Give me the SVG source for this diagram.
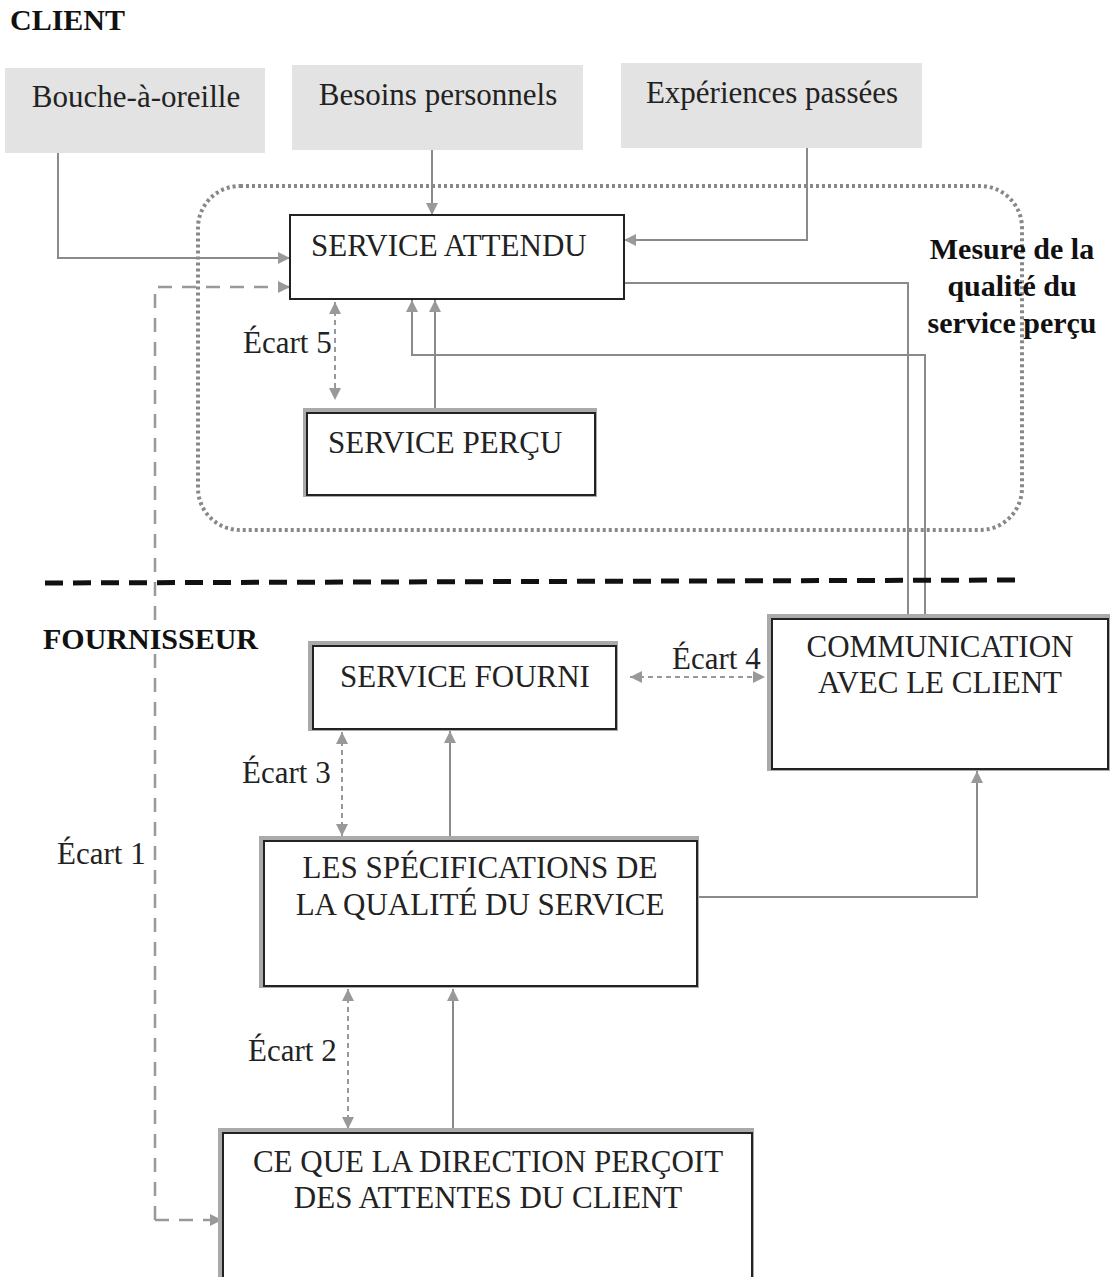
<svg xmlns="http://www.w3.org/2000/svg" width="1110" height="1277" viewBox="0 0 1110 1277">
<style>
text{font-family:"Liberation Serif","Times New Roman",serif;fill:#222}
.t{font-size:31px}
.b{font-size:30px;font-weight:bold;fill:#111}
.src{fill:#e3e3e3}
.box{fill:#fff;stroke:#222;stroke-width:2}
.sh{fill:none;stroke:#aaa;stroke-width:4}
.ln{fill:none;stroke:#8a8a8a;stroke-width:2}
.dl{fill:none;stroke:#999;stroke-width:2;stroke-dasharray:5 4}
.dg{fill:none;stroke:#999;stroke-width:2.5;stroke-dasharray:14 10}
</style>
<defs>
<marker id="ahb" viewBox="0 0 10 10" refX="10" refY="5" markerWidth="12" markerHeight="12" markerUnits="userSpaceOnUse" orient="auto-start-reverse">
<path d="M0,0 L10,5 L0,10 z" fill="#999"/>
</marker>
</defs>

<text class="b" x="10" y="30">CLIENT</text>

<g id="bouche"><rect class="src" x="5" y="68" width="260" height="85"/><text class="t" x="136" y="107" text-anchor="middle">Bouche-à-oreille</text></g>
<g id="besoins"><rect class="src" x="292" y="65" width="291" height="85"/><text class="t" x="438" y="105" text-anchor="middle">Besoins personnels</text></g>
<g id="experiences"><rect class="src" x="621" y="63" width="301" height="85"/><text class="t" x="772" y="103" text-anchor="middle">Expériences passées</text></g>

<g id="zone-mesure">
<rect x="198" y="186" width="824" height="344" rx="42" fill="none" stroke="#888" stroke-width="4" stroke-dasharray="3 3"/>
</g>

<g id="connectors">
<path class="ln" d="M58,153 V258 H290" marker-end="url(#ahb)"/>
<path class="ln" d="M432,150 V215" marker-end="url(#ahb)"/>
<path class="ln" d="M807,148 V240 H624" marker-end="url(#ahb)"/>
<path class="ln" d="M624,283 H908 V618"/>
<path class="ln" d="M925,618 V355 H412 V300" marker-end="url(#ahb)"/>
<path class="ln" d="M435,412 V300" marker-end="url(#ahb)"/>
<path class="dl" d="M335,302 V400" marker-start="url(#ahb)" marker-end="url(#ahb)"/>
<path class="dl" d="M630,677 H765" marker-start="url(#ahb)" marker-end="url(#ahb)"/>
<path class="dl" d="M342,732 V836" marker-start="url(#ahb)" marker-end="url(#ahb)"/>
<path class="ln" d="M450,838 V731" marker-end="url(#ahb)"/>
<path class="ln" d="M697,897 H977 V771" marker-end="url(#ahb)"/>
<path class="dl" d="M348,989 V1129" marker-start="url(#ahb)" marker-end="url(#ahb)"/>
<path class="ln" d="M453,1131 V989" marker-end="url(#ahb)"/>
<path class="dg" d="M155,1220 V287 H290" marker-end="url(#ahb)"/>
<path class="dg" d="M155,1220 H222" marker-end="url(#ahb)"/>
</g>

<g id="service-attendu"><rect class="box" x="290" y="215" width="334" height="84"/><text class="t" x="311" y="256">SERVICE ATTENDU</text></g>

<text class="t" x="243" y="353">Écart 5</text>

<g id="service-percu"><rect class="sh" x="305" y="410" width="290" height="85"/><rect class="box" x="307" y="413" width="288" height="82"/><text class="t" x="328" y="453">SERVICE PERÇU</text></g>

<g id="mesure-label">
<text class="b" x="1012" y="259" text-anchor="middle">Mesure de la</text>
<text class="b" x="1012" y="296" text-anchor="middle">qualité du</text>
<text class="b" x="1012" y="333" text-anchor="middle">service perçu</text>
</g>

<line x1="45" y1="583" x2="1020" y2="580" stroke="#111" stroke-width="5" stroke-dasharray="18 10"/>

<text class="b" x="43" y="649">FOURNISSEUR</text>

<g id="service-fourni"><rect class="sh" x="310" y="643" width="306" height="86"/><rect class="box" x="313" y="646" width="303" height="83"/><text class="t" x="465" y="687" text-anchor="middle">SERVICE FOURNI</text></g>

<text class="t" x="672" y="669">Écart 4</text>

<g id="communication"><rect class="sh" x="769" y="616" width="339" height="153"/><rect class="box" x="772" y="619" width="336" height="150"/><text class="t" x="940" y="657" text-anchor="middle">COMMUNICATION</text><text class="t" x="940" y="693" text-anchor="middle">AVEC LE CLIENT</text></g>

<text class="t" x="242" y="783">Écart 3</text>
<text class="t" x="57" y="864">Écart 1</text>

<g id="specifications"><rect class="sh" x="261" y="838" width="436" height="148"/><rect class="box" x="264" y="841" width="433" height="145"/><text class="t" x="480" y="878" text-anchor="middle">LES SPÉCIFICATIONS DE</text><text class="t" x="480" y="915" text-anchor="middle">LA QUALITÉ DU SERVICE</text></g>

<text class="t" x="248" y="1061">Écart 2</text>

<g id="direction"><rect class="sh" x="220" y="1130" width="532" height="160"/><rect class="box" x="223" y="1133" width="529" height="160"/><text class="t" x="488" y="1172" text-anchor="middle">CE QUE LA DIRECTION PERÇOIT</text><text class="t" x="488" y="1208" text-anchor="middle">DES ATTENTES DU CLIENT</text></g>
</svg>
